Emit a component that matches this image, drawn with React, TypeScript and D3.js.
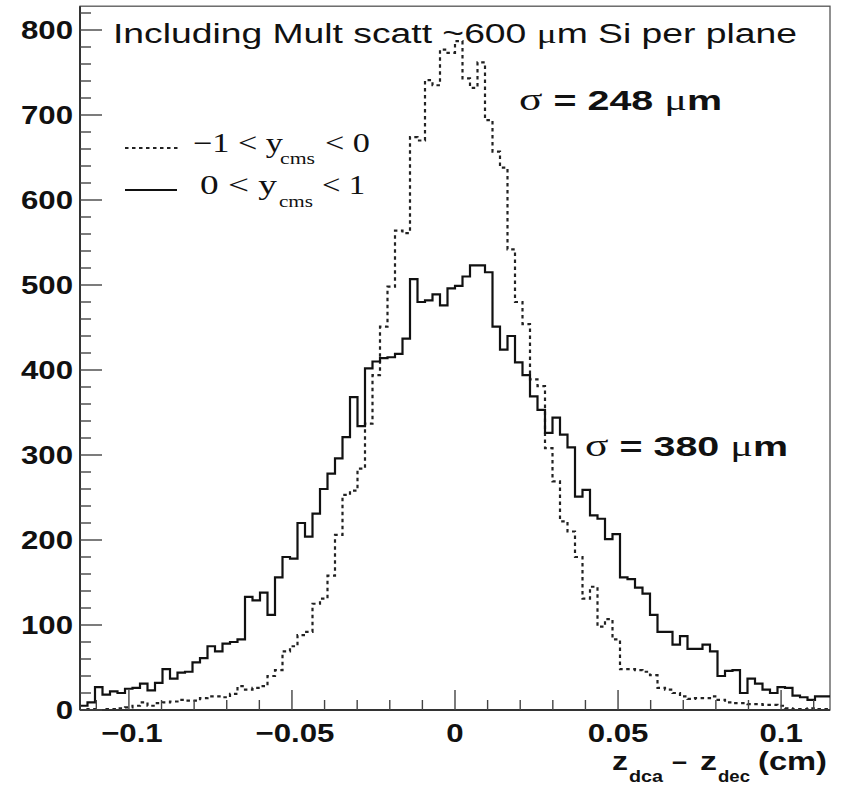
import React from 'react';
import * as d3 from 'd3';

// Histogram binning (100 bins over the x range)
const xRange: [number, number] = [-0.115, 0.115];
const nBins = 100;
const yMax = 828;

// 0 < y_cms < 1  (solid)
const solidCounts = [
  5, 9, 27, 18, 22, 20, 25, 26, 31, 23,
  32, 48, 37, 44, 45, 56, 61, 75, 69, 78,
  80, 83, 133, 129, 138, 112, 156, 180, 178, 220,
  204, 231, 260, 278, 296, 321, 368, 334, 402, 410,
  414, 415, 419, 437, 507, 480, 482, 489, 476, 496,
  499, 510, 523, 523, 515, 451, 424, 440, 409, 394,
  369, 353, 326, 344, 324, 309, 251, 259, 229, 225,
  201, 207, 156, 154, 144, 137, 112, 92, 92, 77,
  87, 72, 72, 77, 69, 40, 46, 47, 20, 37,
  31, 24, 20, 27, 26, 17, 15, 12, 16, 16,
];

// -1 < y_cms < 0  (dotted)
const dottedCounts = [
  0, 1, 0, 1, 1, 2, 3, 5, 9, 5,
  8, 9, 10, 12, 11, 11, 14, 16, 16, 15,
  19, 28, 24, 26, 28, 40, 47, 69, 75, 88,
  92, 125, 131, 158, 206, 253, 258, 284, 337, 394,
  451, 498, 564, 561, 674, 670, 741, 735, 777, 773,
  787, 743, 732, 762, 694, 657, 638, 542, 480, 454,
  389, 381, 308, 269, 222, 210, 180, 131, 145, 98,
  107, 83, 48, 48, 47, 45, 41, 26, 24, 20,
  16, 13, 14, 14, 16, 12, 9, 8, 8, 7,
  7, 6, 6, 5, 2, 1, 1, 2, 1, 1,
];

const xMajorTicks = [-0.1, -0.05, 0, 0.05, 0.1];
const xTickLabels = ['\u22120.1', '\u22120.05', '0', '0.05', '0.1'];
const yMajorTicks = [0, 100, 200, 300, 400, 500, 600, 700, 800];
const yTickLabels = ['0', '100', '200', '300', '400', '500', '600', '700', '800'];

const SANS = "'Liberation Sans', Arial, Helvetica, sans-serif";
const SERIF = "'Liberation Serif', 'Times New Roman', serif";

export default function App() {
  const W = 843, H = 787;
  const L = 80, R = 830, T = 6.2, B = 710;
  const x = d3.scaleLinear().domain(xRange).range([L, R]);
  const y = d3.scaleLinear().domain([0, yMax]).range([B, T]);
  const binW = (xRange[1] - xRange[0]) / nBins;

  const stepPts = (c: number[]) => {
    const pts: [number, number][] = c.map((v, i) => [xRange[0] + i * binW, v]);
    pts.push([xRange[1], c[c.length - 1]]);
    return pts;
  };
  const line = d3
    .line<[number, number]>()
    .x((d) => x(d[0]))
    .y((d) => y(d[1]))
    .curve(d3.curveStepAfter);

  const xMinor = d3.range(-11, 12).filter((i) => i % 5 !== 0).map((i) => i / 100);
  const yMinor = d3.range(0, 821, 20).filter((v) => v % 100 !== 0);

  return (
    <svg
      width={W}
      height={H}
      style={{ position: 'absolute', left: 0, top: 0, background: '#fff' }}
    >
      <rect x={0} y={0} width={W} height={H} fill="#fff" />
      {/* frame */}
      <rect x={L} y={T} width={R - L} height={B - T} fill="none" stroke="#555" strokeWidth={1.3} />

      {/* histograms */}
      <path d={line(stepPts(dottedCounts)) || ''} fill="none" stroke="#222" strokeWidth={2.2} strokeDasharray="3.5 3.5" />
      <path d={line(stepPts(solidCounts)) || ''} fill="none" stroke="#111" strokeWidth={2.2} />

      {/* axes lines */}
      <line x1={L} x2={L} y1={T} y2={B} stroke="#333" strokeWidth={2} />
      <line x1={L} x2={R} y1={B} y2={B} stroke="#333" strokeWidth={2} />

      {/* y ticks */}
      {yMajorTicks.map((v) => (
        <line key={'ym' + v} x1={L} x2={L + 22} y1={y(v)} y2={y(v)} stroke="#444" strokeWidth={1.4} />
      ))}
      {yMinor.map((v) => (
        <line key={'yn' + v} x1={L} x2={L + 11} y1={y(v)} y2={y(v)} stroke="#444" strokeWidth={1.4} />
      ))}
      {/* x ticks */}
      {xMajorTicks.map((v) => (
        <line key={'xm' + v} x1={x(v)} x2={x(v)} y1={B} y2={B - 20} stroke="#444" strokeWidth={1.4} />
      ))}
      {xMinor.map((v) => (
        <line key={'xn' + v} x1={x(v)} x2={x(v)} y1={B} y2={B - 10} stroke="#444" strokeWidth={1.4} />
      ))}

      {/* y labels */}
      {yMajorTicks.map((v, i) => (
        <text
          key={'yl' + v}
          transform={`translate(73, ${y(v) + 9}) scale(1.2, 1)`}
          textAnchor="end"
          fontFamily={SANS}
          fontWeight="bold"
          fontSize={26}
          fill="#111"
        >
          {yTickLabels[i]}
        </text>
      ))}
      {/* x labels */}
      {xMajorTicks.map((v, i) => (
        <text
          key={'xl' + v}
          transform={`translate(${x(v) + (v < 0 ? 3 : 0)}, 742) scale(1.2, 1)`}
          textAnchor="middle"
          fontFamily={SANS}
          fontWeight="bold"
          fontSize={26}
          fill="#111"
        >
          {xTickLabels[i]}
        </text>
      ))}

      {/* x axis title */}
      <g fontFamily={SANS} fontWeight="bold" fill="#111">
        <text x={612} y={770} fontSize={26} textLength={16} lengthAdjust="spacingAndGlyphs">z</text>
        <text x={629} y={782} fontSize={17} textLength={34} lengthAdjust="spacingAndGlyphs">dca</text>
        <text x={672} y={770} fontSize={26} textLength={15} lengthAdjust="spacingAndGlyphs">{'\u2013'}</text>
        <text x={700} y={770} fontSize={26} textLength={17} lengthAdjust="spacingAndGlyphs">z</text>
        <text x={718} y={782} fontSize={17} textLength={32} lengthAdjust="spacingAndGlyphs">dec</text>
        <text x={758} y={770} fontSize={26} textLength={69} lengthAdjust="spacingAndGlyphs">(cm)</text>
      </g>

      {/* title */}
      <text x={113} y={43} fontFamily={SANS} fontSize={27} fill="#111" textLength={684} lengthAdjust="spacingAndGlyphs">
        Including Mult scatt ~600 <tspan fontFamily={SERIF}>{'\u03bc'}</tspan>m Si per plane
      </text>

      {/* sigma annotations */}
      <text x={519} y={110} fontFamily={SANS} fontWeight="bold" fontSize={28} fill="#111" textLength={203} lengthAdjust="spacingAndGlyphs">
        <tspan fontFamily={SERIF} fontWeight="normal" fontSize={31}>{'\u03c3'}</tspan>{' = 248 '}<tspan fontFamily={SERIF} fontWeight="normal" fontSize={30}>{'\u03bc'}</tspan>m
      </text>
      <text x={585} y={456} fontFamily={SANS} fontWeight="bold" fontSize={28} fill="#111" textLength={203} lengthAdjust="spacingAndGlyphs">
        <tspan fontFamily={SERIF} fontWeight="normal" fontSize={31}>{'\u03c3'}</tspan>{' = 380 '}<tspan fontFamily={SERIF} fontWeight="normal" fontSize={30}>{'\u03bc'}</tspan>m
      </text>

      {/* legend */}
      <line x1={125} x2={178} y1={148} y2={148} stroke="#222" strokeWidth={2.2} strokeDasharray="3.5 3.5" />
      <line x1={125} x2={177} y1={190} y2={190} stroke="#111" strokeWidth={2.2} />
      <g fontFamily={SERIF} fill="#111">
        <text x={193} y={152} fontSize={27} textLength={90} lengthAdjust="spacingAndGlyphs">{'\u22121 < y'}</text>
        <text x={280} y={164} fontSize={16} textLength={35} lengthAdjust="spacingAndGlyphs">cms</text>
        <text x={325} y={152} fontSize={27} textLength={45} lengthAdjust="spacingAndGlyphs">{'< 0'}</text>
        <text x={200} y={194} fontSize={27} textLength={77} lengthAdjust="spacingAndGlyphs">{'0 < y'}</text>
        <text x={279} y={207} fontSize={16} textLength={34} lengthAdjust="spacingAndGlyphs">cms</text>
        <text x={322} y={194} fontSize={27} textLength={43} lengthAdjust="spacingAndGlyphs">{'< 1'}</text>
      </g>
    </svg>
  );
}
